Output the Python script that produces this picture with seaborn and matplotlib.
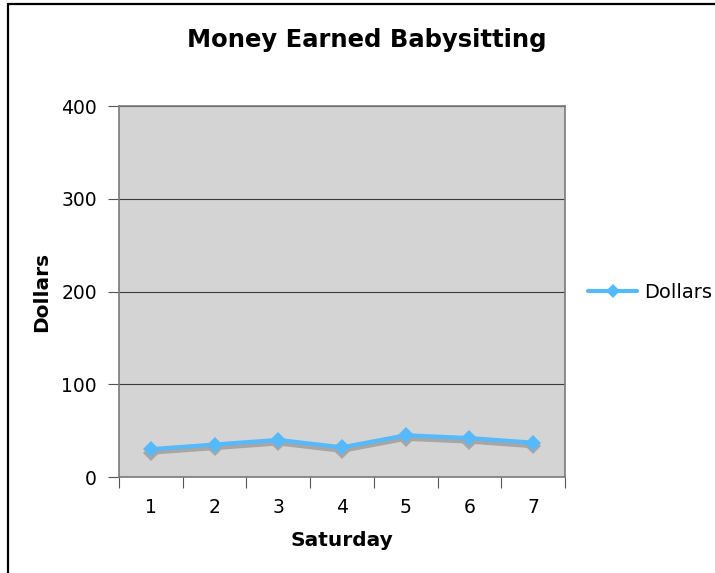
import matplotlib
matplotlib.use("Agg")
import matplotlib.pyplot as plt
import matplotlib.transforms as mtransforms
from matplotlib.lines import Line2D
import seaborn as sns
import pandas as pd

saturdays = [1, 2, 3, 4, 5, 6, 7]
dollars = [30, 35, 40, 32, 45, 42, 37]
y_ticks = [0, 100, 200, 300, 400]

df = pd.DataFrame({"Saturday": saturdays, "Dollars": dollars})

sns.set_theme(style="white")
plt.rcParams["font.family"] = ["DejaVu Sans"]
plt.rcParams["text.color"] = "black"
plt.rcParams["axes.labelcolor"] = "black"
plt.rcParams["xtick.labelcolor"] = "black"
plt.rcParams["ytick.labelcolor"] = "black"

fig = plt.figure(figsize=(7.15, 5.73), dpi=100)
ax = fig.add_axes([0.1664, 0.1675, 0.6238, 0.6475])
ax.set_facecolor("#d4d4d4")

line_color = "#55b9fb"

# drop shadow under the series
shadow = mtransforms.offset_copy(ax.transData, fig=fig, x=0, y=-3.5, units="dots")
sns.lineplot(data=df, x="Saturday", y="Dollars", ax=ax, color="#a6a6a6",
             linewidth=3, marker="D", markersize=8, markeredgewidth=0,
             transform=shadow, zorder=3, legend=False)
sns.lineplot(data=df, x="Saturday", y="Dollars", ax=ax, color=line_color,
             linewidth=3, marker="D", markersize=8, markeredgewidth=0,
             zorder=4, legend=False)

ax.set_xlim(0.5, 7.5)
ax.set_ylim(0, 400)
ax.set_yticks(y_ticks)
ax.set_yticklabels([str(v) for v in y_ticks], fontsize=13.5)
ax.yaxis.grid(True, color="#3a3a3a", linewidth=0.8)
ax.set_axisbelow(True)

# category labels centred, tick marks on category boundaries
ax.set_xticks(saturdays)
ax.set_xticklabels([str(s) for s in saturdays], fontsize=13.5)
ax.set_xticks([s - 0.5 for s in saturdays] + [7.5], minor=True)
ax.tick_params(axis="x", which="major", length=0, pad=15)
ax.tick_params(axis="x", which="minor", length=8, width=0.8, color="#555555", bottom=True)
ax.tick_params(axis="y", which="major", length=8, width=0.8, color="#555555", left=True, pad=8)

for side in ["left", "bottom", "top", "right"]:
    ax.spines[side].set_color("#7a7a7a")
    ax.spines[side].set_linewidth(1.2)

ax.set_xlabel("Saturday", fontsize=14.5, fontweight="bold", labelpad=10)
ax.set_ylabel("Dollars", fontsize=14.5, fontweight="bold", labelpad=7)
fig.suptitle("Money Earned Babysitting", fontsize=17.5, fontweight="bold",
             x=0.513, y=0.952)

handle = Line2D([], [], color=line_color, linewidth=3, marker="D",
                markersize=7, markeredgewidth=0)
fig.legend([handle], ["Dollars"], loc="center left",
           bbox_to_anchor=(0.823, 0.489), frameon=False, fontsize=14,
           handlelength=2.5, handletextpad=0.35, borderaxespad=0, borderpad=0)

# outer frame on the top and left edges
fig.add_artist(Line2D([0.011, 0.011], [0.0, 0.993], transform=fig.transFigure,
                      color="black", linewidth=1.6))
fig.add_artist(Line2D([0.011, 1.0], [0.993, 0.993], transform=fig.transFigure,
                      color="black", linewidth=1.6))

fig.savefig("out.png", dpi=100)
